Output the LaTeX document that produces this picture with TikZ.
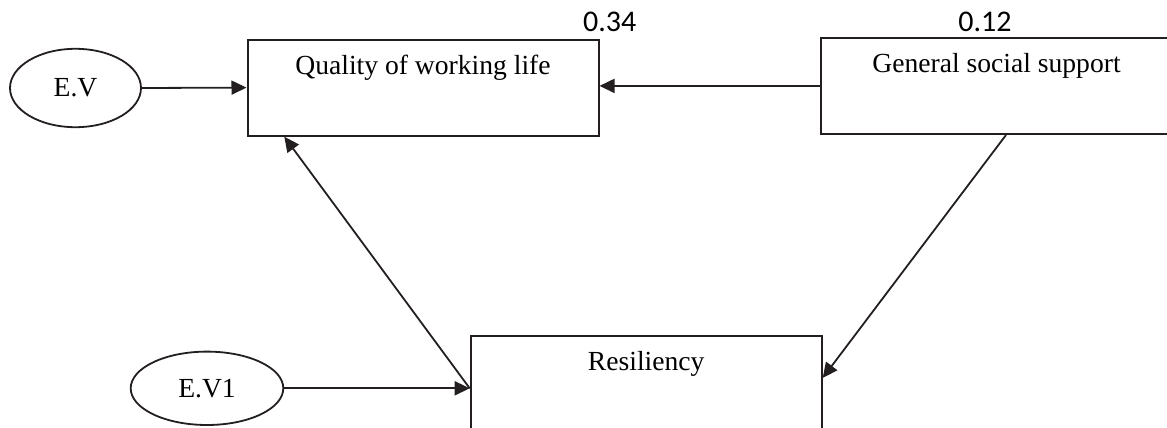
\documentclass[tikz,border=0pt]{standalone}
\usepackage{fontspec}
\setmainfont{Liberation Serif}
\newfontfamily\numfont{Carlito}
\usetikzlibrary{arrows.meta,shapes.geometric}
\definecolor{ink}{HTML}{231F20}

\begin{document}
\begin{tikzpicture}[
        x=0.5pt, y=-0.5pt,
        var/.style={draw=ink, line width=1pt, rectangle, minimum width=175.5pt,
            inner xsep=0pt, inner ysep=0pt, text height=17.5pt, text depth=30.6pt,
            font=\fontsize{13.8}{16}\selectfont},
        err/.style={draw=ink, line width=0.9pt, ellipse, inner sep=0pt,
            font=\fontsize{13.8}{16}\selectfont},
        coef/.style={font=\numfont\fontsize{15}{17}\selectfont},
        link/.style={-{Triangle[length=7.5pt,width=7pt]}, line width=0.9pt, draw=ink}
    ]
        \useasboundingbox (0,0) rectangle (1167,428);

        % Variables
        \node[var] (qwl) at (423, 87.6) {Quality of working life};
        \node[var] (gss) at (996.5, 85.9) {General social support};
        \node[var] (res) at (646.2, 383.7) {Resiliency};

        % Error terms
        \node[err, minimum width=65.5pt, minimum height=39.2pt] (ev) at (75.5, 88) {E.V};
        \node[err, minimum width=76.3pt, minimum height=36.7pt] (ev1) at (207, 388.3) {E.V1};

        % Coefficients
        \node[coef] (r2qwl) at (609.7, 21.7) {0.34};
        \node[coef] (r2gss) at (985, 22) {0.12};

        % Paths
        \draw[link] (ev.east) -- (qwl.west);
        \draw[link] (gss.west) -- (gss.west -| qwl.east);
        \draw[link] (ev1.east) -- (ev1.east -| res.west);
        \draw[link] (ev1.east -| res.west) -- ([xshift=18.9pt]qwl.south west);
        \draw[link] ([xshift=4.75pt]gss.south) -- ([yshift=2.9pt]res.east);
    \end{tikzpicture}
\end{document}
